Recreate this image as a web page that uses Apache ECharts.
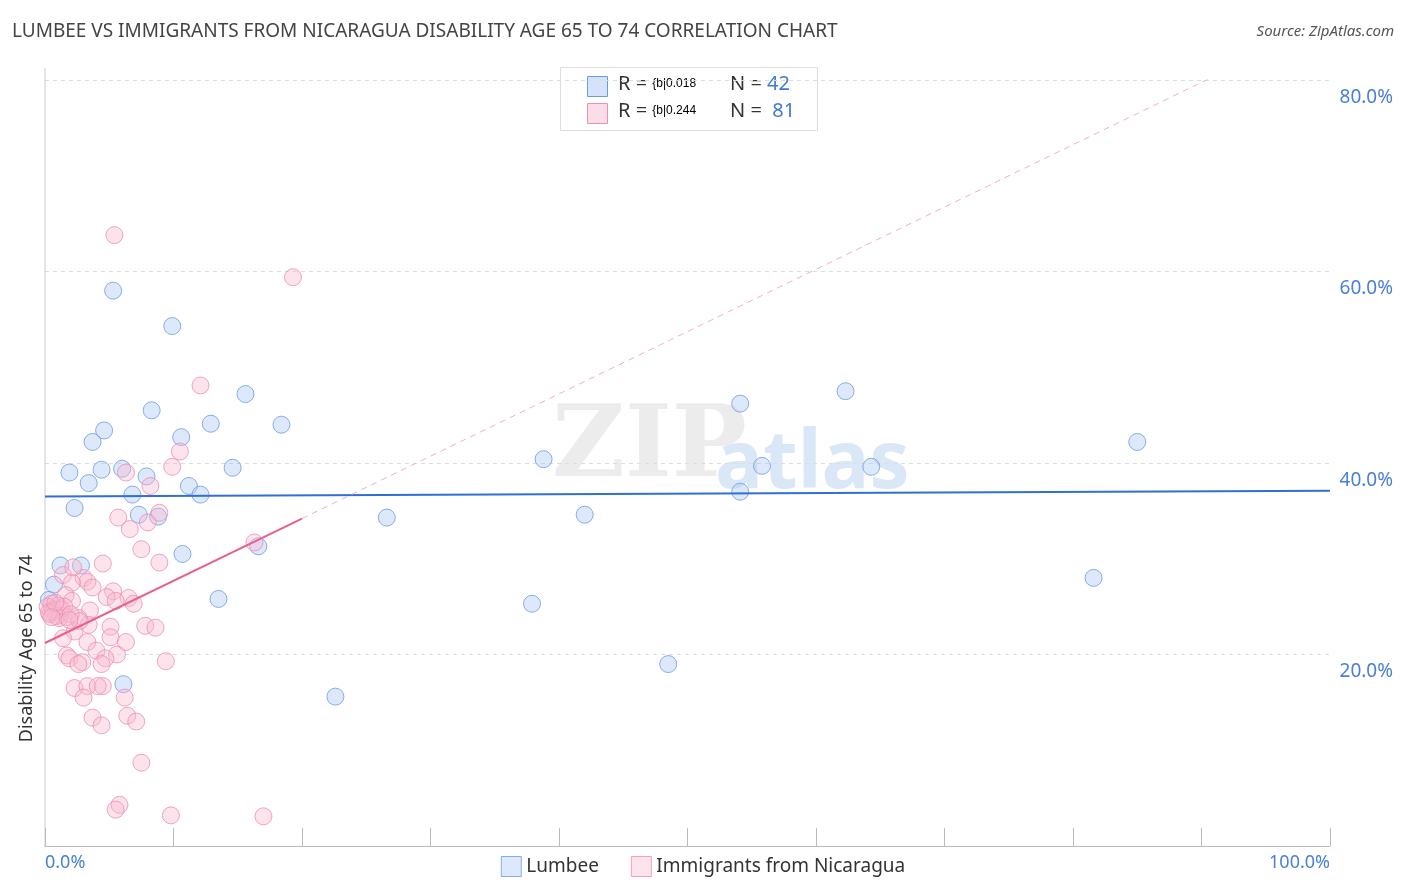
<!DOCTYPE html>
<html><head><meta charset="utf-8">
<script src="https://cdn.jsdelivr.net/npm/echarts@6/dist/echarts.min.js"></script>
<style>html,body{margin:0;padding:0;background:#fff}#c{width:1406px;height:892px}</style>
</head><body><div id="c"></div>
<script>
const seriesNames = ['Lumbee', 'Immigrants from Nicaragua'];
const lumbee = [[5.3,58.0],[9.9,54.3],[8.3,45.5],[15.6,47.2],[12.9,44.1],[18.4,44.0],[10.6,42.7],[4.6,43.4],[3.7,42.2],[1.9,39.0],[4.4,39.3],[6.0,39.4],[7.9,38.6],[14.6,39.5],[3.4,37.9],[11.2,37.6],[6.8,36.7],[12.1,36.7],[2.3,35.3],[7.3,34.6],[8.8,34.4],[10.7,30.5],[16.6,31.3],[1.2,29.3],[2.8,29.3],[0.7,27.3],[0.3,25.7],[13.5,25.8],[6.1,16.9],[22.6,15.6],[26.6,34.3],[38.8,40.4],[42.0,34.6],[37.9,25.3],[48.5,19.0],[54.1,46.2],[54.1,37.0],[55.8,39.7],[62.3,47.5],[64.3,39.6],[81.6,28.0],[85.0,42.2]];
const nicaragua = [[5.4,63.8],[19.3,59.4],[12.1,48.1],[10.5,41.2],[9.9,39.6],[6.3,39.0],[8.2,37.6],[5.7,34.3],[8.0,33.8],[8.9,34.8],[6.6,33.1],[16.3,31.7],[7.5,31.0],[8.9,29.6],[4.5,29.5],[1.4,28.3],[3.0,28.0],[3.3,27.6],[2.1,27.5],[3.7,27.0],[5.3,26.6],[1.6,26.2],[4.8,26.0],[6.5,25.9],[2.1,25.6],[5.5,25.6],[6.9,25.3],[0.5,25.3],[1.0,25.1],[0.2,25.0],[0.7,24.7],[1.3,24.7],[3.5,24.6],[0.4,24.2],[1.2,24.1],[1.7,23.9],[2.6,23.8],[0.9,24.0],[3.4,23.1],[5.1,22.9],[7.8,23.0],[8.6,22.8],[2.3,22.4],[1.4,21.7],[5.1,21.8],[3.3,21.3],[6.3,21.3],[4.0,20.4],[5.6,20.0],[1.7,19.9],[1.9,19.6],[4.7,19.6],[2.9,19.2],[2.6,19.0],[9.4,19.3],[4.4,19.0],[2.3,16.5],[3.3,16.7],[4.5,16.7],[4.1,16.7],[3.0,15.5],[6.2,15.5],[3.7,13.4],[6.4,13.6],[4.4,12.6],[7.1,13.0],[7.5,8.7],[5.8,4.3],[5.5,3.8],[9.8,3.2],[17.0,3.1],[2.7,23.5],[2.2,29.1],[0.6,24.5],[1.1,23.8],[0.3,24.4],[1.5,25.0],[2.0,24.2],[0.8,25.4],[1.9,23.6],[0.5,23.9]];
const lumbeeTrend = [[0,36.5],[100,37.1]];
const nicTrendSolid = [[0,21.2],[20,34.2]];
const nicTrendDash = [[20,34.2],[91,80.4]];
const yTicks = [20,40,60,80];
const stats = [['0.018','42'],['0.244','81']];
const blue='#6a9be6', blueFill='rgba(170,200,245,0.5)', pink='#ec8fb0', pinkFill='rgba(248,185,208,0.5)';
const chart = echarts.init(document.getElementById('c'));
const rich = {a:{fontSize:20,fill:'#333',fontFamily:'Noto Sans'},b:{fontSize:20,fill:'#3f7bd6',fontFamily:'Noto Sans'}};
chart.setOption({
  animation:false,
  grid:{left:45,right:76,top:80,bottom:46},
  xAxis:{type:'value',min:0,max:100,interval:10,
    axisLine:{lineStyle:{color:'#bbb'}},
    axisTick:{inside:true,length:18,lineStyle:{color:'#bbb'}},
    splitLine:{show:false},
    axisLabel:{color:'#4a7fd6',fontSize:18,fontFamily:'Noto Sans',margin:8,
      formatter:v=>v===0?'0.0%':(v===100?'100.0%':''),
      alignMinLabel:'left',alignMaxLabel:'right'}},
  yAxis:{type:'value',min:0,max:80,interval:20,position:'right',
    axisLine:{show:false},axisTick:{show:false},
    splitLine:{lineStyle:{color:'#ddd',type:[4,4]}},
    axisLabel:{color:'#4a7fd6',fontSize:19,fontFamily:'Noto Sans',align:'right',margin:63,verticalAlign:'top',padding:[8,0,0,0],
      formatter:v=>yTicks.includes(v)?v.toFixed(1)+'%':''}},
  legend:{bottom:10,left:'center',itemWidth:20,itemHeight:20,itemGap:32,
    textStyle:{fontSize:19,color:'#333',fontFamily:'Noto Sans'},
    data:[{name:seriesNames[0],icon:'rect',itemStyle:{color:blueFill,borderColor:blue,borderWidth:1}},
          {name:seriesNames[1],icon:'rect',itemStyle:{color:pinkFill,borderColor:pink,borderWidth:1}}]},
  graphic:[
    {type:'line',shape:{x1:45,y1:68,x2:45,y2:846},style:{stroke:'#ccc',lineWidth:1}},
    {type:'text',left:12,top:22,style:{text:'LUMBEE VS IMMIGRANTS FROM NICARAGUA DISABILITY AGE 65 TO 74 CORRELATION CHART',fontSize:19,fill:'#444',fontFamily:'Noto Sans'}},
    {type:'text',right:12,top:24,style:{text:'Source: ZipAtlas.com',fontSize:15,fill:'#555',fontStyle:'italic',fontFamily:'Noto Sans'}},
    {type:'text',left:552,top:400,z:0,style:{text:'ZIP',fontSize:100,fill:'rgba(200,200,200,0.35)',fontFamily:'DejaVu Serif',fontWeight:'bold'}},
    {type:'text',left:715,top:425,z:0,style:{text:'atlas',fontSize:80,fill:'rgba(150,185,230,0.35)',fontFamily:'Noto Sans',fontWeight:'bold'}},
    {type:'rect',left:560,top:67,shape:{width:257,height:63},style:{fill:'#fff',stroke:'#ddd'}},
    {type:'rect',left:587,top:76,shape:{width:20,height:20},style:{fill:blueFill,stroke:blue}},
    {type:'rect',left:587,top:103,shape:{width:20,height:20},style:{fill:pinkFill,stroke:pink}},
    {type:'text',left:618,top:74,style:{rich,text:'{a|R = }{b|'+stats[0][0]}},
    {type:'text',left:730,top:74,style:{rich,text:'{a|N = }{b|'+stats[0][1]+'}'}},
    {type:'text',left:618,top:101,style:{rich,text:'{a|R = }{b|'+stats[1][0]}},
    {type:'text',left:730,top:101,style:{rich,text:'{a|N = }{b| '+stats[1][1]+'}'}},
    {type:'text',left:18,top:555,rotation:Math.PI/2,style:{text:'Disability Age 65 to 74',fontSize:18,fill:'#333',fontFamily:'Noto Sans'}}
  ],
  series:[
    {name:seriesNames[0],type:'scatter',data:lumbee,symbolSize:17,z:3,
      itemStyle:{color:blueFill,borderColor:blue,borderWidth:1}},
    {name:seriesNames[1],type:'scatter',data:nicaragua,symbolSize:17,z:3,
      itemStyle:{color:pinkFill,borderColor:pink,borderWidth:1}},
    {type:'line',data:lumbeeTrend,showSymbol:false,z:4,lineStyle:{color:'#2f6fd6',width:2}},
    {type:'line',data:nicTrendSolid,showSymbol:false,z:4,lineStyle:{color:'#e8618e',width:2}},
    {type:'line',data:nicTrendDash,showSymbol:false,z:4,lineStyle:{color:'#eeb0c5',width:1,type:[6,5]}}
  ]
});
</script></body></html>
